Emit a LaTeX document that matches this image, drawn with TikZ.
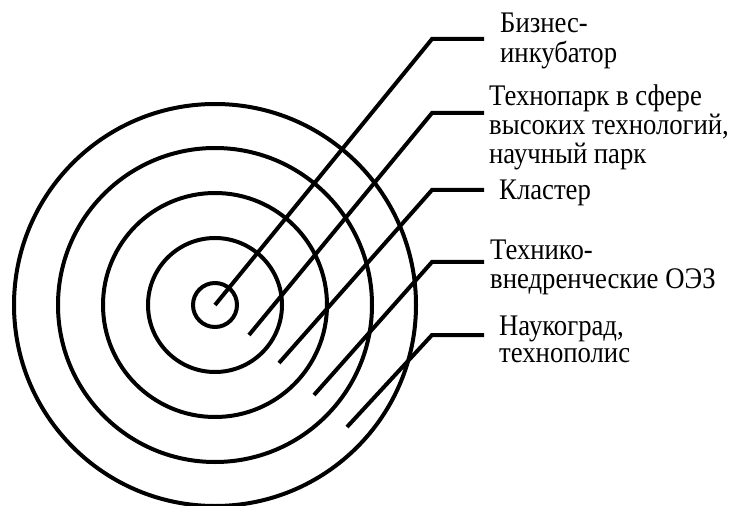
\documentclass[tikz,border=0pt]{standalone}
\usepackage{fontspec}
\setmainfont{Liberation Serif}
\newcommand{\lblbox}[1]{\scalebox{1}[1.12]{\begin{tabular}[t]{@{}l@{}}#1\end{tabular}}}
\begin{document}
\begin{tikzpicture}[x=1bp,y=-1bp,
  ring/.style={draw=black,line width=4bp},
  leader/.style={draw=black,line width=4bp,line join=miter},
  lbl/.style={anchor=base west,inner sep=0pt,font=\fontsize{26.8}{24.5}\selectfont}]
\useasboundingbox (0,0) rectangle (731,506);
\coordinate (o) at (215,305);
\draw[ring] (o) circle[radius=22];
\draw[ring] (o) circle[radius=67];
\draw[ring] (o) circle[radius=112];
\draw[ring] (o) circle[radius=157];
\draw[ring] (o) circle[radius=201];
% leader points
\coordinate (s1) at (215,305); \coordinate (k1) at (432,39);  \coordinate (e1) at (484,39);
\coordinate (s2) at (249,335); \coordinate (k2) at (432,113); \coordinate (e2) at (484,113);
\coordinate (s3) at (279,363); \coordinate (k3) at (432,190); \coordinate (e3) at (484,190);
\coordinate (s4) at (314,395); \coordinate (k4) at (432,262); \coordinate (e4) at (484,262);
\coordinate (s5) at (347,427); \coordinate (k5) at (432,335); \coordinate (e5) at (484,335);
\foreach \i in {1,...,5}{\draw[leader] (s\i) -- (k\i) -- (e\i);}
% labels
\node[lbl] (t1) at (500,33) {\lblbox{Бизнес-\\инкубатор}};
\node[lbl] (t2) at (489,106) {\lblbox{Технопарк в сфере\\высоких технологий,\\научный парк}};
\node[lbl] (t3) at (499,200) {\lblbox{Кластер}};
\node[lbl] (t4) at (490,260) {\lblbox{Технико-\\внедренческие ОЭЗ}};
\node[lbl] (t5) at (499,335) {\lblbox{Наукоград,\\технополис}};
\end{tikzpicture}
\end{document}
